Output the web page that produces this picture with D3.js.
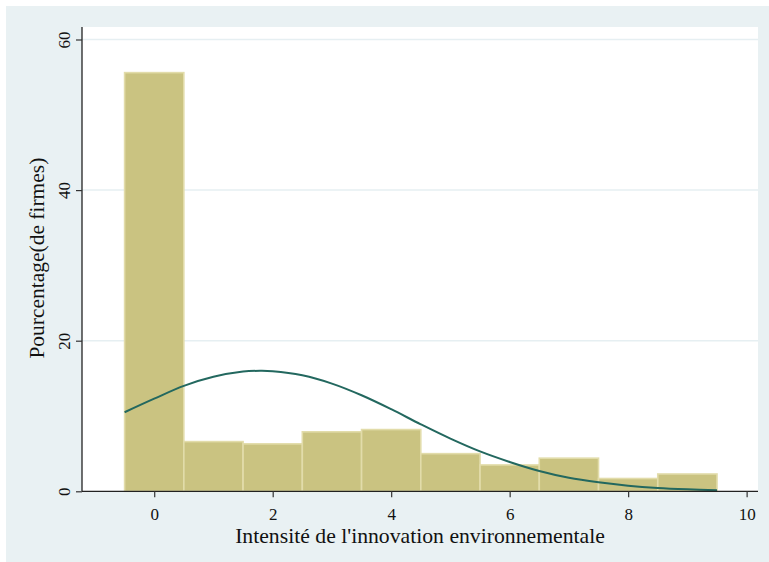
<!DOCTYPE html>
<html>
<head>
<meta charset="utf-8">
<script src="https://cdn.jsdelivr.net/npm/d3@7/dist/d3.min.js"></script>
<style>
  html, body { margin: 0; padding: 0; background: #ffffff; }
  svg { display: block; }
  text { font-family: "Liberation Serif", "DejaVu Serif", serif; fill: #111; }
</style>
</head>
<body>
<svg id="chart" width="769" height="562"></svg>
<script>
// Histogram bins (width 1, centred on integer scores) and their percentages
const binCenters = [0, 1, 2, 3, 4, 5, 6, 7, 8, 9];
const binPercents = [55.6, 6.6, 6.3, 7.9, 8.2, 5.0, 3.5, 4.4, 1.7, 2.3];
const binWidth = 1;

// Fitted normal density overlay (percent scale)
const curveX = [-0.5, 0, 0.5, 1, 1.5, 1.8, 2, 2.5, 3, 3.5, 4, 4.5, 5, 5.5, 6, 6.5, 7, 7.5, 8, 8.5, 9, 9.5];
const curveY = [10.5, 12.3, 14.0, 15.2, 15.9, 16.0, 15.95, 15.4, 14.3, 12.75, 10.9, 8.9, 7.0, 5.3, 3.9, 2.7, 1.8, 1.2, 0.75, 0.45, 0.27, 0.15];

// Axis ticks and titles
const xTicks = [0, 2, 4, 6, 8, 10];
const yTicks = [0, 20, 40, 60];
const yGrid = [20, 40, 60];
const xTitle = "Intensité de l'innovation environnementale";
const yTitle = "Pourcentage(de firmes)";

const W = 769, H = 562;
const plot = { left: 82, right: 758, top: 27, bottom: 491.3 };
const serif = "Liberation Serif";
const tickFont = 17;

const svg = d3.select("#chart");

// outer graph region
svg.append("rect")
  .attr("x", 6).attr("y", 6).attr("width", W - 6).attr("height", H - 6)
  .attr("fill", "#e9f1f3");

// plot region
svg.append("rect")
  .attr("x", plot.left).attr("y", plot.top)
  .attr("width", plot.right - plot.left).attr("height", plot.bottom - plot.top)
  .attr("fill", "#ffffff");

const x = d3.scaleLinear().domain([-1.219, 10.192]).range([plot.left, plot.right]);
const y = d3.scaleLinear().domain([0, 61.66]).range([plot.bottom, plot.top]);

// horizontal grid lines
svg.append("g").selectAll("line").data(yGrid).join("line")
  .attr("x1", plot.left).attr("x2", plot.right)
  .attr("y1", d => y(d)).attr("y2", d => y(d))
  .attr("stroke", "#e6eff2").attr("stroke-width", 1.5);

// histogram bars
svg.append("g").selectAll("rect").data(binCenters).join("rect")
  .attr("x", d => x(d - binWidth / 2))
  .attr("width", d => x(d + binWidth / 2) - x(d - binWidth / 2))
  .attr("y", (d, i) => y(binPercents[i]))
  .attr("height", (d, i) => y(0) - y(binPercents[i]))
  .attr("fill", "#cac381")
  .attr("stroke", "#e2dcaa")
  .attr("stroke-width", 1.6);

// normal density curve
const pts = curveX.map((v, i) => [v, curveY[i]]);
svg.append("path")
  .datum(pts)
  .attr("d", d3.line().x(d => x(d[0])).y(d => y(d[1])).curve(d3.curveCatmullRom.alpha(0.5)))
  .attr("fill", "none")
  .attr("stroke", "#23685f")
  .attr("stroke-width", 2);

// axes
const xAxis = svg.append("g")
  .attr("transform", `translate(0,${plot.bottom})`)
  .call(d3.axisBottom(x).tickValues(xTicks).tickSize(6).tickPadding(10.5).tickFormat(d3.format("d")));
xAxis.select(".domain").attr("d", `M${plot.left},0H${plot.right}`).attr("stroke", "#222").attr("stroke-width", 1.3);
xAxis.selectAll(".tick line").attr("stroke", "#333").attr("stroke-width", 1.2);
xAxis.selectAll(".tick text").attr("font-size", tickFont).attr("font-family", serif).attr("fill", "#111");

const yAxis = svg.append("g")
  .attr("transform", `translate(${plot.left},0)`)
  .call(d3.axisLeft(y).tickValues(yTicks).tickSize(6).tickFormat(d3.format("d")));
yAxis.select(".domain").attr("d", `M0,${plot.top}V${plot.bottom}`).attr("stroke", "#222").attr("stroke-width", 1.3);
yAxis.selectAll(".tick line").attr("stroke", "#333").attr("stroke-width", 1.2);
yAxis.selectAll(".tick text")
  .attr("font-size", tickFont).attr("font-family", serif).attr("fill", "#111")
  .attr("x", null).attr("dy", null)
  .attr("text-anchor", "middle")
  .attr("transform", "translate(-12,0) rotate(-90)");

// axis titles
const xt = svg.append("text")
  .attr("x", (plot.left + plot.right) / 2).attr("y", 543)
  .attr("text-anchor", "middle")
  .attr("font-size", 18)
  .text(xTitle);
const xtw = xt.node().getComputedTextLength();
xt.attr("font-size", 18 * 370 / xtw);

const yt = svg.append("text")
  .attr("transform", `translate(44,${(plot.top + plot.bottom) / 2 - 1}) rotate(-90)`)
  .attr("text-anchor", "middle")
  .attr("font-size", 18)
  .text(yTitle);
const ytw = yt.node().getComputedTextLength();
yt.attr("font-size", 18 * 201 / ytw);
</script>
</body>
</html>
